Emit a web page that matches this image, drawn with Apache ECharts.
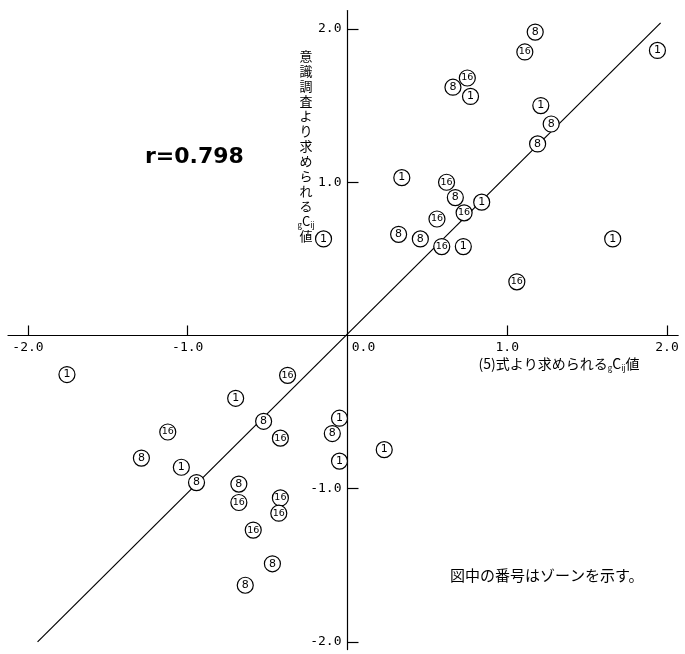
<!DOCTYPE html>
<html>
<head>
<meta charset="utf-8">
<script src="https://cdn.jsdelivr.net/npm/echarts@6/dist/echarts.min.js"></script>
<style>
  html, body { margin: 0; padding: 0; background: #fff; }
  #chart { width: 685px; height: 654px; }
</style>
</head>
<body>
<div id="chart"></div>
<script>
// gCij values: x = from equation (5), y = from the attitude survey; grouped by zone number
const zone1 = [
  [1.94, 1.86], [0.77, 1.56], [1.21, 1.50], [0.84, 0.87], [0.725, 0.58],
  [1.66, 0.63], [0.34, 1.03], [-0.15, 0.63], [-1.756, -0.255], [-0.70, -0.41],
  [-1.04, -0.86], [-0.05, -0.54], [-0.05, -0.82], [0.23, -0.745]
];
const zone8 = [
  [1.175, 1.98], [0.66, 1.62], [1.275, 1.38], [1.19, 1.25], [0.675, 0.90],
  [0.456, 0.63], [0.32, 0.66], [-0.525, -0.56], [-1.29, -0.80], [-0.945, -0.96],
  [-0.68, -0.97], [-0.47, -1.49], [-0.64, -1.63], [-0.095, -0.64]
];
const zone16 = [
  [1.11, 1.85], [0.75, 1.68], [0.62, 1.0], [0.73, 0.80], [0.56, 0.76],
  [0.59, 0.58], [1.06, 0.35], [-0.375, -0.26], [-0.42, -0.67], [-1.125, -0.63],
  [-0.68, -1.09], [-0.42, -1.06], [-0.43, -1.16], [-0.59, -1.27]
];
const zoneNames = ['1', '8', '16'];
const fitLine = [[-1.94, -2.0], [1.96, 2.04]];
const xTickValues = [-2, -1, 1, 2];
const xLabelValues = [-2, -1, 0, 1, 2];
const yTickValues = [-2, -1, 1, 2];
const yLabelValues = [-2, -1, 1, 2];
const corrText = 'r=0.798';
const xTitle = '(5)式より求められる{s|g}C{s|ij}値';
const yTitleChars = ['意', '識', '調', '査', 'よ', 'り', '求', 'め', 'ら', 'れ', 'る', '{s|g}C{s|ij}', '値'];
const noteText = '図中の番号はゾーンを示す。';

const INK = '#000';
const MONO = 'DejaVu Sans Mono';
const JP = 'Noto Sans CJK JP';

const chart = echarts.init(document.getElementById('chart'), null, { renderer: 'canvas' });

function zoneSeries(name, data) {
  return {
    type: 'scatter',
    name: name,
    data: data,
    symbol: 'circle',
    symbolSize: 16,
    z: 5,
    itemStyle: { color: '#fff', borderColor: INK, borderWidth: 1.2, opacity: 1 },
    label: {
      show: true,
      position: 'inside',
      formatter: name,
      fontFamily: 'DejaVu Sans',
      fontSize: name.length > 1 ? 9.5 : 11,
      color: INK
    },
    emphasis: { disabled: true },
    silent: true
  };
}

// Tick labels sit next to the axes that cross at the origin
function tickLabelSeries(values, onX) {
  return {
    type: 'custom',
    data: values.map(v => onX ? [v, 0] : [0, v]),
    silent: true,
    z: 4,
    renderItem: (params, api) => {
      const x = api.value(0);
      const y = api.value(1);
      const p = api.coord([x, y]);
      const v = onX ? x : y;
      return {
        type: 'text',
        x: onX ? p[0] + (v === 0 ? 16 : 0) : p[0] - 6,
        y: onX ? p[1] + 6 : p[1],
        style: {
          text: v.toFixed(1),
          align: onX ? 'center' : 'right',
          verticalAlign: onX ? 'top' : 'middle',
          fontFamily: MONO,
          fontSize: 13,
          fill: INK
        }
      };
    }
  };
}

const option = {
  animation: false,
  backgroundColor: '#fff',
  grid: { left: 8, top: 10.6, width: 670.2, height: 639.0, containLabel: false, outerBoundsMode: 'none' },
  xAxis: {
    type: 'value',
    min: -2.125,
    max: 2.07,
    axisLine: { onZero: true, lineStyle: { color: INK, width: 1.2 } },
    axisTick: { show: true, inside: true, length: 10, customValues: xTickValues, lineStyle: { color: INK, width: 1.2 } },
    axisLabel: { show: false },
    splitLine: { show: false }
  },
  yAxis: {
    type: 'value',
    min: -2.05,
    max: 2.12,
    axisLine: { onZero: true, lineStyle: { color: INK, width: 1.2 } },
    axisTick: { show: true, inside: true, length: 11, customValues: yTickValues, lineStyle: { color: INK, width: 1.2 } },
    axisLabel: { show: false },
    splitLine: { show: false }
  },
  series: [
    {
      type: 'line',
      data: fitLine,
      symbol: 'none',
      z: 2,
      lineStyle: { color: INK, width: 1.2 },
      emphasis: { disabled: true },
      silent: true
    },
    tickLabelSeries(xLabelValues, true),
    tickLabelSeries(yLabelValues, false),
    zoneSeries(zoneNames[0], zone1),
    zoneSeries(zoneNames[1], zone8),
    zoneSeries(zoneNames[2], zone16)
  ],
  graphic: [
    {
      type: 'text',
      left: 145,
      top: 146,
      style: { text: corrText, fontFamily: 'DejaVu Sans', fontWeight: 'bold', fontSize: 22, fill: INK }
    },
    {
      type: 'text',
      x: 306,
      y: 49,
      style: {
        text: yTitleChars.join('\n'),
        align: 'center',
        verticalAlign: 'top',
        fontFamily: JP,
        fontSize: 13,
        lineHeight: 15,
        fill: INK,
        rich: { s: { fontFamily: JP, fontSize: 8, lineHeight: 15, fill: INK, verticalAlign: 'bottom' } }
      }
    },
    {
      type: 'text',
      x: 559,
      y: 364,
      style: {
        text: xTitle,
        align: 'center',
        verticalAlign: 'middle',
        fontFamily: JP,
        fontSize: 14,
        lineHeight: 16,
        fill: INK,
        rich: { s: { fontFamily: JP, fontSize: 8, lineHeight: 16, fill: INK, verticalAlign: 'bottom' } }
      }
    },
    {
      type: 'text',
      x: 450,
      y: 575,
      style: { text: noteText, align: 'left', verticalAlign: 'middle', fontFamily: JP, fontSize: 15, fill: INK }
    }
  ]
};

chart.setOption(option);
</script>
</body>
</html>
